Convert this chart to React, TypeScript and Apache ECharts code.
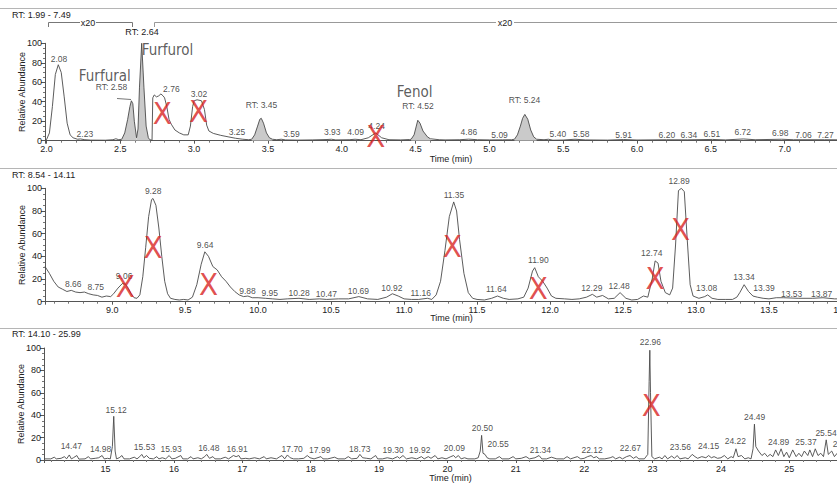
import React, { useEffect, useRef } from "react";
import * as echarts from "echarts";

// ---------- DATA ----------
const topRange: [number, number] = [1.99, 7.49];
const midRange: [number, number] = [8.54, 14.11];
const botRange: [number, number] = [14.1, 25.99];

const topTrace: [number, number][] = [
  [1.99, 0.5], [2.0, 1], [2.02, 8], [2.04, 35], [2.06, 68], [2.08, 78], [2.1, 70], [2.12, 45], [2.14, 18], [2.16, 6],
  [2.18, 3], [2.21, 1.5], [2.23, 1.8], [2.26, 1], [2.3, 0.6], [2.4, 0.5], [2.45, 1], [2.47, 2], [2.49, 1],
  [2.51, 1.5], [2.53, 8], [2.55, 22], [2.565, 35], [2.575, 41], [2.585, 38], [2.595, 20], [2.61, 3],
  [2.62, 12], [2.63, 55], [2.645, 100], [2.66, 55], [2.675, 15], [2.69, 3], [2.7, 1], [2.715, 0.5],
  [2.72, 44], [2.73, 47], [2.745, 45], [2.76, 46], [2.775, 48], [2.79, 46], [2.8, 44], [2.815, 35], [2.83, 22],
  [2.845, 17], [2.87, 11], [2.9, 8], [2.93, 6], [2.96, 6], [2.975, 15], [2.99, 35], [3.0, 41], [3.02, 42],
  [3.05, 41], [3.07, 32], [3.085, 16], [3.1, 10], [3.13, 7.5], [3.18, 5.5], [3.23, 4], [3.28, 2.5], [3.33, 1.5],
  [3.37, 1], [3.39, 1.5], [3.41, 6], [3.43, 15], [3.445, 22], [3.455, 23], [3.47, 18], [3.49, 8], [3.51, 3],
  [3.53, 1.5], [3.56, 1], [3.59, 1.5], [3.62, 0.8], [3.7, 0.6], [3.8, 0.8], [3.9, 1.2], [3.93, 1.5], [3.96, 0.8],
  [4.05, 1], [4.09, 1.5], [4.13, 1], [4.18, 3], [4.23, 8], [4.27, 3], [4.32, 1], [4.4, 0.8], [4.46, 1.2],
  [4.47, 1.5], [4.49, 6], [4.505, 15], [4.515, 21], [4.53, 18], [4.55, 10], [4.58, 4], [4.6, 2], [4.66, 1],
  [4.7, 0.8], [4.8, 1], [4.86, 1.6], [4.92, 1], [5.0, 0.8], [5.09, 0.9], [5.15, 1], [5.17, 1.5], [5.19, 6],
  [5.21, 15], [5.225, 23], [5.24, 27], [5.26, 22], [5.28, 11], [5.3, 4], [5.32, 1.5], [5.37, 1], [5.4, 1.5],
  [5.43, 0.5], [5.5, 0.7], [5.58, 1.5], [5.65, 0.8], [5.8, 0.6], [5.91, 1.2], [6.0, 0.7], [6.2, 1], [6.34, 0.9],
  [6.51, 1.3], [6.6, 0.8], [6.72, 1.8], [6.8, 1], [6.98, 1.5], [7.06, 1], [7.27, 1], [7.49, 0.8],
];

const shadedRanges: [number, number][] = [[2.51, 2.61], [2.61, 2.7], [3.39, 3.53], [4.47, 4.6], [5.17, 5.32]];

const midTrace: [number, number][] = [
  [8.54, 31], [8.57, 25], [8.6, 18], [8.63, 13], [8.66, 11], [8.69, 9], [8.72, 10], [8.75, 8.5], [8.78, 8],
  [8.81, 8.5], [8.84, 7], [8.87, 6], [8.9, 5.5], [8.93, 4], [8.96, 5], [8.99, 4.5], [9.01, 7], [9.04, 12],
  [9.07, 16], [9.09, 15.5], [9.11, 12], [9.13, 7], [9.15, 3.5], [9.17, 3], [9.19, 6], [9.21, 22], [9.23, 48],
  [9.25, 75], [9.27, 90], [9.28, 91], [9.3, 85], [9.32, 65], [9.34, 40], [9.36, 18], [9.38, 7], [9.4, 3],
  [9.43, 2], [9.46, 1.5], [9.49, 2], [9.52, 1.5], [9.55, 4], [9.58, 15], [9.61, 33], [9.635, 44], [9.66, 40],
  [9.69, 31], [9.72, 28], [9.75, 22], [9.78, 18], [9.81, 13], [9.84, 9], [9.87, 6], [9.9, 4.5], [9.93, 5],
  [9.96, 3.5], [10.0, 3.5], [10.05, 3], [10.1, 2.5], [10.15, 2], [10.2, 2.5], [10.28, 3], [10.35, 2],
  [10.42, 2.5], [10.47, 2], [10.55, 2.5], [10.62, 2.5], [10.69, 4.5], [10.75, 2.5], [10.82, 2], [10.88, 4],
  [10.92, 7], [10.96, 5], [11.0, 2.5], [11.05, 2], [11.1, 2], [11.16, 3], [11.19, 2], [11.22, 6], [11.25, 18],
  [11.28, 45], [11.31, 75], [11.34, 88], [11.36, 80], [11.38, 55], [11.41, 25], [11.44, 8], [11.47, 3],
  [11.5, 2], [11.55, 1.5], [11.6, 3], [11.64, 5], [11.68, 3], [11.72, 2], [11.78, 2.5], [11.82, 4], [11.85, 12],
  [11.88, 27], [11.895, 30], [11.92, 22], [11.95, 18], [11.98, 12], [12.01, 5], [12.04, 3], [12.1, 2.5],
  [12.15, 2], [12.2, 2.5], [12.25, 4], [12.29, 6.5], [12.32, 4], [12.36, 5.5], [12.4, 2.5], [12.44, 3],
  [12.48, 8], [12.52, 3], [12.56, 1.5], [12.6, 2], [12.64, 5], [12.67, 4], [12.7, 20], [12.72, 36], [12.74, 34],
  [12.76, 18], [12.79, 8], [12.82, 6], [12.84, 12], [12.86, 50], [12.88, 98], [12.9, 100], [12.92, 97],
  [12.94, 55], [12.96, 15], [12.98, 5], [13.02, 3], [13.06, 4.5], [13.08, 6], [13.11, 3], [13.15, 2], [13.2, 2],
  [13.25, 2], [13.28, 4], [13.3, 8], [13.33, 15], [13.36, 9], [13.39, 5], [13.42, 4], [13.46, 3], [13.5, 2.5],
  [13.55, 3.5], [13.6, 3.5], [13.7, 3], [13.8, 3], [13.87, 3.5], [13.95, 2.5], [14.0, 2.5], [14.11, 2],
];

const botTrace: [number, number][] = [
  [14.1, 1], [14.2, 1], [14.25, 2.5], [14.28, 1], [14.35, 1.5], [14.4, 3], [14.43, 1], [14.47, 4.5], [14.5, 1],
  [14.53, 2], [14.58, 4], [14.61, 0.8], [14.7, 1], [14.75, 3], [14.78, 1], [14.85, 1.5], [14.9, 2], [14.95, 4],
  [14.98, 1], [15.03, 1.5], [15.07, 1], [15.1, 12], [15.12, 39], [15.14, 8], [15.16, 1], [15.2, 2], [15.24, 4],
  [15.27, 1], [15.35, 1], [15.42, 2.5], [15.46, 1], [15.5, 3], [15.53, 5], [15.56, 2], [15.6, 4], [15.64, 1.5],
  [15.7, 1], [15.75, 3], [15.78, 1], [15.83, 2], [15.88, 1], [15.93, 4], [15.97, 1], [16.02, 1.5], [16.1, 4],
  [16.13, 1], [16.2, 1], [16.25, 3], [16.28, 1], [16.35, 2], [16.4, 1], [16.45, 3], [16.48, 5], [16.52, 1.5],
  [16.57, 3], [16.6, 1], [16.68, 1], [16.75, 2.5], [16.8, 1], [16.87, 4], [16.91, 3], [16.95, 4], [16.98, 1],
  [17.05, 1.5], [17.1, 1], [17.18, 2], [17.25, 1], [17.32, 3], [17.35, 1], [17.42, 2], [17.5, 1], [17.55, 3],
  [17.58, 4], [17.62, 1], [17.66, 4.5], [17.7, 2], [17.75, 1], [17.82, 1], [17.9, 1.5], [17.95, 4], [17.99, 2],
  [18.05, 1], [18.15, 3], [18.18, 1], [18.25, 1], [18.35, 2.5], [18.4, 1], [18.5, 1], [18.55, 3], [18.6, 1],
  [18.68, 1.5], [18.72, 5], [18.76, 2], [18.82, 1.5], [18.88, 1], [18.95, 4], [18.98, 1], [19.05, 1],
  [19.12, 2], [19.2, 1], [19.27, 3], [19.3, 1.5], [19.35, 4], [19.4, 1], [19.48, 2], [19.55, 1], [19.62, 3],
  [19.66, 1], [19.72, 3], [19.76, 1.5], [19.82, 4], [19.86, 1], [19.92, 2], [19.98, 1], [20.05, 3], [20.09, 4],
  [20.12, 2], [20.16, 4], [20.2, 1], [20.25, 2], [20.3, 1], [20.4, 1], [20.45, 2], [20.48, 8], [20.5, 22],
  [20.52, 6], [20.55, 5], [20.58, 2], [20.62, 1], [20.7, 1], [20.76, 3], [20.8, 1], [20.9, 1], [20.96, 3],
  [21.0, 1], [21.08, 1.5], [21.15, 3], [21.2, 1], [21.28, 2], [21.34, 4], [21.38, 1], [21.45, 1], [21.52, 2.5],
  [21.6, 1], [21.7, 1], [21.75, 3], [21.8, 1], [21.85, 2], [21.9, 3], [21.95, 1], [22.0, 1.5], [22.05, 3],
  [22.1, 4], [22.14, 2], [22.18, 3], [22.22, 1], [22.3, 1], [22.38, 2], [22.42, 3], [22.46, 1], [22.52, 2.5],
  [22.56, 1], [22.62, 3], [22.67, 4], [22.72, 1.5], [22.76, 3], [22.8, 1], [22.88, 1], [22.93, 5], [22.95, 70],
  [22.96, 98], [22.97, 60], [22.99, 3], [23.03, 1], [23.1, 2.5], [23.14, 1], [23.18, 4], [23.22, 1],
  [23.28, 3.5], [23.32, 1.5], [23.36, 4], [23.4, 1], [23.48, 2], [23.52, 1], [23.58, 5], [23.62, 3],
  [23.66, 1.5], [23.72, 3], [23.78, 2], [23.82, 4], [23.86, 2], [23.9, 3], [23.95, 1.5], [24.0, 2], [24.05, 4],
  [24.1, 1], [24.15, 3], [24.18, 2], [24.22, 10], [24.25, 3], [24.3, 4], [24.35, 1], [24.4, 2], [24.44, 1],
  [24.47, 10], [24.49, 32], [24.51, 12], [24.55, 8], [24.6, 4], [24.64, 6], [24.68, 3], [24.72, 5], [24.76, 3],
  [24.8, 9], [24.84, 4], [24.88, 10], [24.92, 3], [24.96, 7], [25.0, 2], [25.05, 9], [25.1, 3], [25.14, 6],
  [25.18, 3], [25.22, 8], [25.27, 4], [25.3, 9], [25.34, 3], [25.38, 10], [25.42, 4], [25.46, 6], [25.5, 3],
  [25.54, 18], [25.57, 5], [25.62, 8], [25.66, 3], [25.7, 6], [25.75, 2], [25.8, 5], [25.85, 3], [25.9, 4],
  [25.99, 2],
];

// peak labels: [time, value, text]
const topLabels: [number, number, string][] = [
  [2.085, 78, "2.08"], [2.26, 1.2, "2.23"], [2.44, 49, "RT: 2.58"], [2.846, 46.5, "2.76"], [3.033, 41.5, "3.02"],
  [3.29, 2.3, "3.25"], [3.456, 31, "RT: 3.45"], [3.659, 1.2, "3.59"], [3.936, 2.3, "3.93"], [4.094, 2.3, "4.09"],
  [4.236, 9, "4.24"], [4.516, 29.7, "RT: 4.52"], [4.861, 2.3, "4.86"], [5.069, 0.2, "5.09"], [5.238, 35.4, "RT: 5.24"],
  [5.464, 0.5, "5.40"], [5.622, 0.5, "5.58"], [5.909, 0.2, "5.91"], [6.202, 0.2, "6.20"], [6.351, 0.2, "6.34"],
  [6.507, 0.9, "6.51"], [6.716, 2.3, "6.72"], [6.97, 1.6, "6.98"], [7.127, 0.2, "7.06"], [7.276, 0.2, "7.27"],
];
const topNames: [number, number, string][] = [[2.395, 66, "Furfural"], [2.82, 93, "Furfurol"], [4.493, 50, "Fenol"]];

const midLabels: [number, number, string][] = [
  [8.733, 9.9, "8.66"], [8.888, 7.8, "8.75"], [9.082, 17.6, "9.06"], [9.281, 92.2, "9.28"], [9.637, 44.6, "9.64"],
  [9.927, 4, "9.88"], [10.08, 2.8, "9.95"], [10.281, 2.6, "10.28"], [10.468, 1.9, "10.47"], [10.687, 4.3, "10.69"],
  [10.916, 7.2, "10.92"], [11.114, 2.8, "11.16"], [11.342, 88.7, "11.35"], [11.632, 5.7, "11.64"],
  [11.92, 31.3, "11.90"], [12.286, 7.2, "12.29"], [12.473, 8.7, "12.48"], [12.697, 37.9, "12.74"],
  [12.884, 101, "12.89"], [13.073, 6.4, "13.08"], [13.329, 16.7, "13.34"], [13.466, 6.4, "13.39"],
  [13.655, 1.9, "13.53"], [13.861, 1.9, "13.87"],
];

const botLabels: [number, number, string][] = [
  [14.499, 6.8, "14.47"], [14.927, 4.8, "14.98"], [15.156, 39.6, "15.12"], [15.57, 5.9, "15.53"],
  [15.96, 4.8, "15.93"], [16.51, 5.4, "16.48"], [16.925, 4.8, "16.91"], [17.73, 4.8, "17.70"],
  [18.133, 3.9, "17.99"], [18.718, 4.8, "18.73"], [19.206, 3.3, "19.30"], [19.595, 3.9, "19.92"],
  [20.102, 5.4, "20.09"], [20.512, 23, "20.50"], [20.741, 8.9, "20.55"], [21.36, 3.9, "21.34"],
  [22.115, 3.9, "22.12"], [22.675, 5.4, "22.67"], [22.968, 100.4, "22.96"], [23.406, 5.9, "23.56"],
  [23.82, 7.5, "24.15"], [24.21, 11.2, "24.22"], [24.493, 32.6, "24.49"], [24.844, 10.4, "24.89"],
  [25.244, 10.4, "25.37"], [25.537, 18.6, "25.54"], [25.79, 9, "25.78"],
];

// red crosses: [time, value]
const topCross: [number, number][] = [[2.785, 28], [3.03, 31], [4.23, 5]];
const midCross: [number, number][] = [[9.09, 14], [9.28, 48], [9.66, 16], [11.33, 49], [11.92, 12], [12.72, 21], [12.895, 64]];
const botCross: [number, number][] = [[22.98, 49]];

const yTicks = [0, 20, 40, 60, 80, 100];

// ---------- STYLE ----------
const sans = "'Liberation Sans', Arial, Helvetica, sans-serif";
const narrow = "'Liberation Sans Narrow', 'DejaVu Sans Condensed', 'Liberation Sans', sans-serif";
const traceColor = "#4a4a4a";
const axisColor = "#555";
const textColor = "#222";
const W = 880; // canvas wider than the window: the reference is cropped at the right

function xAxisCfg(gridIndex: number, range: [number, number], splitNumber: number, nameGap: number, decimals: number) {
  return {
    type: "value",
    gridIndex,
    min: range[0],
    max: range[1],
    splitNumber,
    name: "Time (min)",
    nameLocation: "middle",
    nameGap,
    nameMoveOverlap: false,
    nameTextStyle: { fontSize: 9, color: textColor, fontFamily: sans },
    axisLine: { onZero: false, lineStyle: { color: axisColor, width: 1 } },
    axisTick: { length: 3, lineStyle: { color: axisColor } },
    minorTick: { show: true, splitNumber: 5, length: 2, lineStyle: { color: "#777" } },
    axisLabel: {
      fontSize: 9, color: textColor, margin: 4, fontFamily: sans,
      showMinLabel: false, showMaxLabel: false,
      formatter: (v: number) => v.toFixed(decimals),
    },
    splitLine: { show: false },
  };
}

function yAxisCfg(gridIndex: number) {
  return {
    type: "value",
    gridIndex,
    min: yTicks[0],
    max: yTicks[yTicks.length - 1],
    interval: yTicks[1] - yTicks[0],
    name: "Relative Abundance",
    nameLocation: "middle",
    nameGap: 19,
    nameMoveOverlap: false,
    nameTextStyle: { fontSize: 9, color: textColor, fontFamily: sans },
    axisLine: { show: true, lineStyle: { color: axisColor, width: 1 } },
    axisTick: { show: true, length: 4, lineStyle: { color: axisColor } },
    minorTick: { show: true, splitNumber: 4, length: 2, lineStyle: { color: "#777" } },
    axisLabel: { fontSize: 9, color: textColor, margin: 3, fontFamily: sans },
    splitLine: { show: false },
  };
}

function traceSeries(i: number, data: [number, number][]) {
  return {
    type: "line", xAxisIndex: i, yAxisIndex: i, data, showSymbol: false, symbol: "none",
    lineStyle: { color: traceColor, width: 0.9 }, z: 3, silent: true,
  };
}

function labelSeries(i: number, labels: [number, number, string][]) {
  return {
    type: "scatter", xAxisIndex: i, yAxisIndex: i, clip: false, symbolSize: 1, z: 5, silent: true,
    itemStyle: { color: "rgba(0,0,0,0)" },
    data: labels.map(([t, v, s]) => ({ name: s, value: [t, v] })),
    label: { show: true, position: "top", distance: 1, formatter: "{b}", fontSize: 8.5, color: textColor, fontFamily: sans },
  };
}

function crossSeries(i: number, pts: [number, number][]) {
  return {
    type: "scatter", xAxisIndex: i, yAxisIndex: i, clip: false, symbolSize: 1, z: 6, silent: true,
    itemStyle: { color: "rgba(0,0,0,0)" },
    data: pts.map(([t, v]) => ({ name: "X", value: [t, v] })),
    label: { show: true, position: "inside", formatter: "X", fontSize: 31, color: "#d8221f", fontFamily: narrow },
  };
}

export default function App() {
  const ref = useRef<HTMLDivElement>(null);
  useEffect(() => {
    if (!ref.current) return;
    document.body.style.overflow = "hidden";
    const chart = echarts.init(ref.current, undefined, { renderer: "svg" });

    const shaded = shadedRanges.map(([a, b]) => ({
      type: "line", xAxisIndex: 0, yAxisIndex: 0, showSymbol: false, symbol: "none", silent: true,
      data: topTrace.filter(([t]) => t >= a && t <= b),
      lineStyle: { width: 0 },
      areaStyle: { color: "#cacaca", opacity: 1 },
      z: 2,
    }));

    const headerText = (x: number, y: number, text: string) => ({
      type: "text", x, y, style: { text, font: `9px ${sans}`, fill: textColor, textVerticalAlign: "middle" },
    });

    const option: any = {
      animation: false,
      backgroundColor: "#fff",
      grid: [
        { left: 45, top: 43.3, width: 812, height: 97.4 },
        { left: 45, top: 188.3, width: 813, height: 113.4 },
        { left: 44, top: 348, width: 813, height: 114 },
      ],
      xAxis: [
        xAxisCfg(0, topRange, 11, 14, 1),
        xAxisCfg(1, midRange, 11, 12, 1),
        xAxisCfg(2, botRange, 12, 13, 0),
      ],
      yAxis: [yAxisCfg(0), yAxisCfg(1), yAxisCfg(2)],
      series: [
        ...shaded,
        traceSeries(0, topTrace),
        traceSeries(1, midTrace),
        traceSeries(2, botTrace),
        labelSeries(0, topLabels),
        labelSeries(1, midLabels),
        labelSeries(2, botLabels),
        {
          type: "scatter", xAxisIndex: 0, yAxisIndex: 0, clip: false, symbolSize: 1, z: 5, silent: true,
          itemStyle: { color: "rgba(0,0,0,0)" },
          data: topNames.map(([t, v, s]) => ({ name: s, value: [t, v] })),
          label: { show: true, position: "inside", formatter: "{b}", fontSize: 15, color: "#333", fontFamily: narrow },
        },
        crossSeries(0, topCross),
        crossSeries(1, midCross),
        crossSeries(2, botCross),
      ],
      graphic: [
        { type: "line", shape: { x1: 0, y1: 8.5, x2: W, y2: 8.5 }, style: { stroke: "#b5b5b5", lineWidth: 1 } },
        { type: "line", shape: { x1: 0, y1: 168.5, x2: W, y2: 168.5 }, style: { stroke: "#b5b5b5", lineWidth: 1 } },
        { type: "line", shape: { x1: 0, y1: 328.5, x2: W, y2: 328.5 }, style: { stroke: "#b5b5b5", lineWidth: 1 } },
        headerText(12, 15, "RT: 1.99 - 7.49"),
        headerText(12, 175, "RT: 8.54 - 14.11"),
        headerText(12, 334, "RT: 14.10 - 25.99"),
        // x20 brackets
        { type: "polyline", shape: { points: [[48.5, 27], [48.5, 22.5], [80, 22.5]] }, style: { stroke: "#777", lineWidth: 1, fill: "none" } },
        { type: "polyline", shape: { points: [[96, 22.5], [132.5, 22.5], [132.5, 27]] }, style: { stroke: "#777", lineWidth: 1, fill: "none" } },
        { type: "text", x: 88, y: 22.5, style: { text: "x20", font: `9px ${sans}`, fill: textColor, textAlign: "center", textVerticalAlign: "middle" } },
        { type: "polyline", shape: { points: [[154.5, 27], [154.5, 22.5], [496, 22.5]] }, style: { stroke: "#999", lineWidth: 1, fill: "none" } },
        { type: "line", shape: { x1: 514, y1: 22.5, x2: W, y2: 22.5 }, style: { stroke: "#999", lineWidth: 1 } },
        { type: "text", x: 505, y: 22.5, style: { text: "x20", font: `9px ${sans}`, fill: textColor, textAlign: "center", textVerticalAlign: "middle" } },
        { type: "text", x: 142, y: 31.5, style: { text: "RT: 2.64", font: `9px ${sans}`, fill: textColor, textAlign: "center", textVerticalAlign: "middle" } },
        { type: "line", shape: { x1: 117, y1: 98.5, x2: 131, y2: 99.5 }, style: { stroke: "#777", lineWidth: 1 } },
      ],
    };
    chart.setOption(option);
    return () => chart.dispose();
  }, []);
  return (
    <div
      ref={ref}
      style={{ position: "fixed", left: 0, top: 0, width: W, height: 483, background: "#fff" }}
    />
  );
}
